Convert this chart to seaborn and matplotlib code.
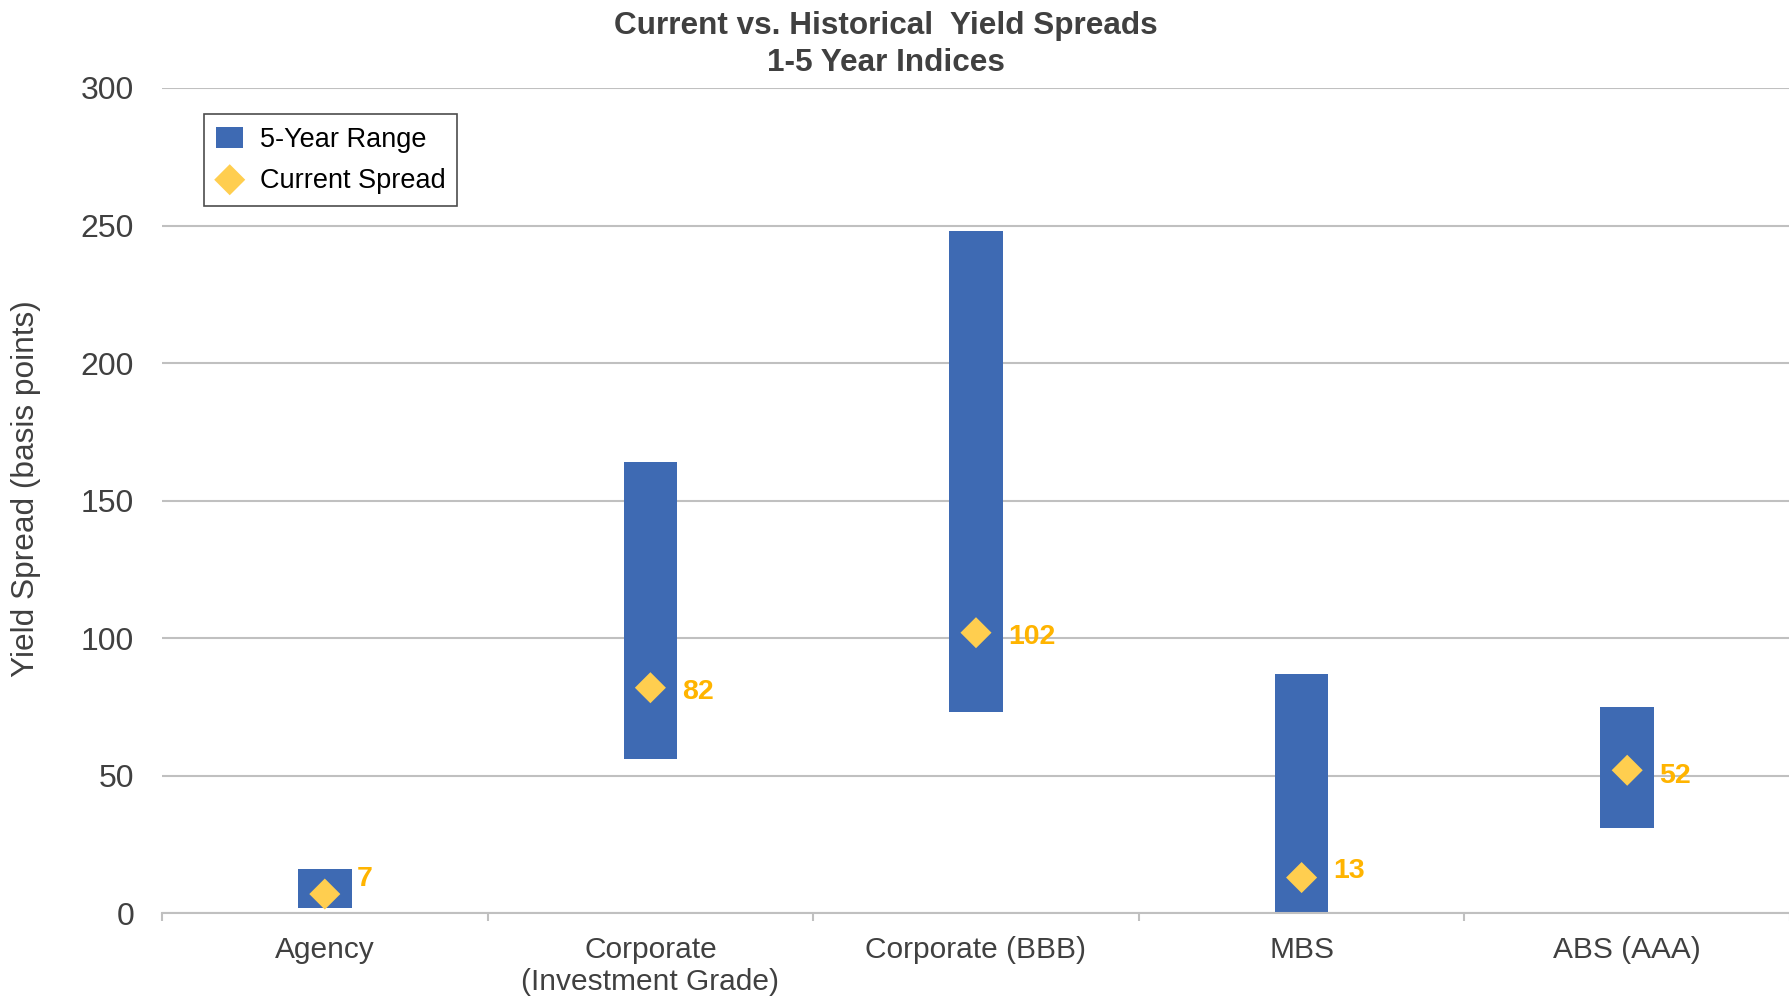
import matplotlib
matplotlib.use("Agg")
import matplotlib.pyplot as plt
from matplotlib.ticker import FixedLocator, MultipleLocator
import pandas as pd
import seaborn as sns

# Data ---------------------------------------------------------------
categories = ["Agency", "Corporate\n(Investment Grade)", "Corporate (BBB)", "MBS", "ABS (AAA)"]
range_low = [2, 56, 73, 0, 31]
range_high = [16, 164, 248, 87, 75]
current_spread = [7, 82, 102, 13, 52]

df = pd.DataFrame({
    "category": categories,
    "low": range_low,
    "high": range_high,
    "current": current_spread,
})
df["span"] = df["high"] - df["low"]

# Style --------------------------------------------------------------
sns.set_theme(style="white")
plt.rcParams["font.family"] = ["Liberation Sans", "DejaVu Sans"]

BAR_BLUE = "#3E6AB3"
DIAMOND_GOLD = "#FFCE4F"
LABEL_GOLD = "#FFB400"
GRID_GRAY = "#C0C0C0"
TEXT_GRAY = "#404040"

# vertical nudge (points) of each value label relative to its marker
label_nudge = [11, -3, -3, 5, -4]

fig = plt.figure(figsize=(17.9, 10.01), dpi=100)
ax = fig.add_axes([0.0905, 0.0876, 0.9095, 0.8245])

# Floating range bars
sns.barplot(
    data=df, x="category", y="span", bottom=df["low"].to_numpy(),
    color=BAR_BLUE, saturation=1, width=0.165, errorbar=None,
    order=categories, label="5-Year Range", ax=ax, zorder=2,
    linewidth=0,
)

# Current spread markers
sns.scatterplot(
    data=df, x="category", y="current", marker="D", s=250,
    color=DIAMOND_GOLD, edgecolor="none", label="Current Spread",
    ax=ax, zorder=3,
)

# Value labels beside the markers
for i, v in enumerate(df["current"]):
    ax.annotate(
        f"{v}", xy=(i, v), xytext=(23, label_nudge[i]), textcoords="offset points",
        ha="left", va="center", fontsize=20.5, fontweight="bold",
        color=LABEL_GOLD, zorder=4,
    )

# Axes ---------------------------------------------------------------
ax.set_xlim(-0.5, 4.5)
ax.set_ylim(0, 300)
ax.yaxis.set_major_locator(MultipleLocator(50))
ax.grid(axis="y", color=GRID_GRAY, linewidth=1.5, zorder=0)
ax.grid(axis="x", visible=False)
ax.set_axisbelow(True)

for side in ("left", "right", "top"):
    ax.spines[side].set_visible(False)
ax.spines["bottom"].set_color(GRID_GRAY)
ax.spines["bottom"].set_linewidth(1.5)

ax.xaxis.set_minor_locator(FixedLocator([-0.5, 0.5, 1.5, 2.5, 3.5, 4.5]))
ax.tick_params(axis="x", which="major", length=0, pad=16,
               labelsize=21.5, labelcolor=TEXT_GRAY)
ax.tick_params(axis="x", which="minor", length=6, width=1.5,
               color=GRID_GRAY, direction="out", bottom=True)
ax.tick_params(axis="y", which="major", length=0, pad=20,
               labelsize=23, labelcolor=TEXT_GRAY)

ax.set_xlabel("")
ax.set_ylabel("Yield Spread (basis points)", fontsize=22.8, color=TEXT_GRAY)
ax.yaxis.set_label_coords(-0.0745, 0.515)

# Legend, range first
handles, labels = ax.get_legend_handles_labels()
order = [labels.index("5-Year Range"), labels.index("Current Spread")]
leg = ax.legend(
    [handles[k] for k in order], [labels[k] for k in order],
    loc="upper left", bbox_to_anchor=(0.0258, 0.968), borderaxespad=0,
    fontsize=19.5, frameon=True, fancybox=False, shadow=False,
    handlelength=1.0, handleheight=0.85, handletextpad=0.6,
    labelspacing=0.55, borderpad=0.45, markerscale=1.0,
)
leg.get_frame().set_edgecolor("#202020")
leg.get_frame().set_linewidth(1.2)
for t in leg.get_texts():
    t.set_color("#000000")

# Title
fig.text(0.495, 0.974, "Current vs. Historical  Yield Spreads", ha="center",
         va="center", fontsize=22.7, fontweight="bold", color=TEXT_GRAY)
fig.text(0.495, 0.937, "1-5 Year Indices", ha="center", va="center",
         fontsize=22.7, fontweight="bold", color=TEXT_GRAY)

fig.savefig("out.png", dpi=100)
